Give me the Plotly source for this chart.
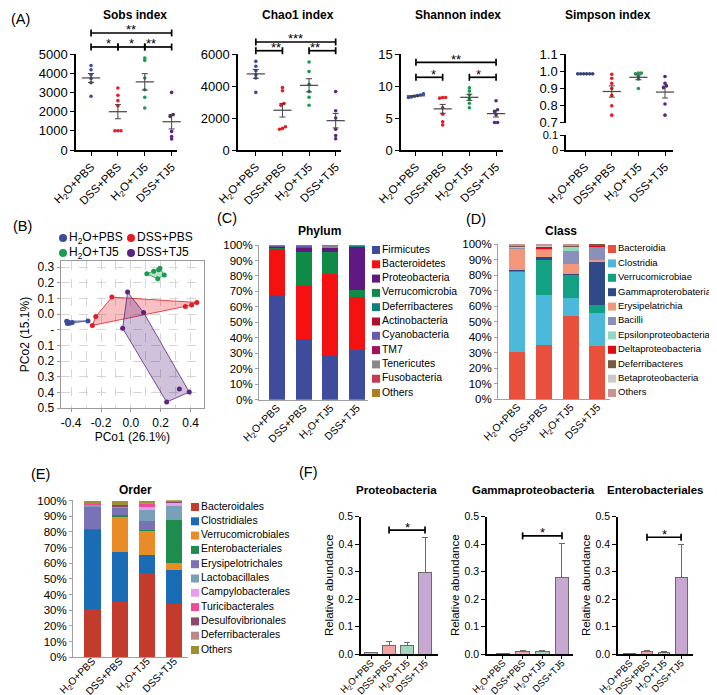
import numpy as np
import plotly.graph_objects as go

W, H = 717, 695
FONT = "Liberation Sans, Arial, sans-serif"

# ---------------- data ----------------
groups = ["H2O+PBS", "DSS+PBS", "H2O+TJ5", "DSS+TJ5"]
group_ticktext = ["H<sub>2</sub>O+PBS", "DSS+PBS", "H<sub>2</sub>O+TJ5", "DSS+TJ5"]
group_colors = ["#3c4b9b", "#e51c23", "#1a9b4f", "#5b2483"]

sobs = [[4400, 4180, 3920, 3720, 3500, 2800],
        [3230, 2850, 2570, 2310, 1000, 1000, 1000],
        [4790, 4670, 3750, 3140, 2750, 2190],
        [3000, 1840, 1750, 970, 700, 570]]
chao1 = [[5540, 5230, 4960, 4710, 4500, 3600],
         [3900, 3700, 2900, 2800, 1450, 1350, 1300],
         [5500, 4900, 4100, 3650, 3300, 2800],
         [3650, 2450, 2000, 1300, 900, 700]]
shannon = [[8.8, 8.6, 8.5, 8.4, 8.3, 8.2],
           [8.2, 8.1, 8.2, 6.6, 5.6, 4.4, 3.9],
           [9.7, 9.2, 8.6, 8.0, 7.3, 6.6],
           [7.7, 6.3, 6.0, 5.5, 4.3, 4.3]]
simpson = [[0.985, 0.985, 0.985, 0.985, 0.985, 0.985],
           [0.983, 0.96, 0.93, 0.90, 0.86, 0.80, 0.745],
           [0.99, 0.99, 0.985, 0.97, 0.955, 0.90],
           [0.97, 0.93, 0.915, 0.905, 0.81, 0.745]]

sig_sobs = [(0, 3, 6094, "**"), (0, 1, 5365, "*"), (1, 2, 5365, "*"), (2, 3, 5365, "**")]
sig_chao1 = [(0, 3, 6750, "***"), (0, 1, 6206, "**"), (2, 3, 6206, "**")]
sig_shannon = [(0, 3, 13.7, "**"), (0, 1, 11.36, "*"), (2, 3, 11.36, "*")]

# PCoA
pco_blue_x = [-0.43, -0.425, -0.42, -0.41, -0.393, -0.287]
pco_blue_y = [-0.045, -0.06, -0.05, -0.058, -0.053, -0.043]
pco_red_x = [-0.127, -0.235, -0.258, 0.365, 0.407, 0.442]
pco_red_y = [0.109, -0.015, -0.072, 0.049, 0.058, 0.075]
pco_green_x = [0.107, 0.153, 0.187, 0.195, 0.224, 0.18]
pco_green_y = [0.258, 0.274, 0.284, 0.293, 0.25, 0.226]
pco_purple_x = [-0.022, 0.085, -0.055, 0.325, 0.391, 0.24]
pco_purple_y = [0.141, 0.011, -0.09, -0.479, -0.498, -0.562]
pco_ytickvals = [0.3, 0.2, 0.1, 0.0, -0.1, -0.2, -0.3, -0.4, -0.5, -0.6]
pco_yticktext = ["0.3", "0.2", "0.1", "0.0", "-", "0.1", "0.2", "0.3", "0.4", "0.5"]

# Phylum (% per group)
phylum_names = ["Firmicutes", "Bacteroidetes", "Proteobacteria", "Verrucomicrobia", "Deferribacteres",
                "Actinobacteria", "Cyanobacteria", "TM7", "Tenericutes", "Fusobacteria", "Others"]
phylum_colors = ["#3f4c9c", "#f41111", "#5e1a82", "#108a47", "#10807f", "#b0102c",
                 "#6a5aae", "#a3105e", "#8a8a8a", "#c63a55", "#b07c22"]
phylum_stack = ["Firmicutes", "Bacteroidetes", "Verrucomicrobia", "Proteobacteria", "Deferribacteres",
                "Actinobacteria", "Cyanobacteria", "TM7", "Tenericutes", "Fusobacteria", "Others"]
phylum_vals = {
    "Firmicutes": [67.7, 39.4, 28.4, 32.3],
    "Bacteroidetes": [30.0, 34.2, 52.6, 33.8],
    "Verrucomicrobia": [0.1, 22.1, 14.7, 4.5],
    "Proteobacteria": [1.4, 3.2, 2.8, 28.8],
    "Deferribacteres": [0.1, 0.2, 0.1, 0.3],
    "Actinobacteria": [0.1, 0.4, 0.1, 0.1],
    "Cyanobacteria": [0.2, 0.1, 0.1, 0.05],
    "TM7": [0.1, 0.1, 0.1, 0.05],
    "Tenericutes": [0.1, 0.1, 0.9, 0.05],
    "Fusobacteria": [0.1, 0.1, 0.1, 0.05],
    "Others": [0.1, 0.1, 0.1, 0.1],
}

class_names = ["Bacteroidia", "Clostridia", "Verrucomicrobiae", "Gammaproterobateria", "Erysipelatrichia",
               "Bacilli", "Epsilonproteobacteria", "Deltaproteobacteria", "Deferribacteres",
               "Betaproteobacteria", "Others"]
class_colors = ["#e9503b", "#4db9da", "#12a183", "#2f4a86", "#f2967c", "#8990bb",
                "#93d8c2", "#df0a14", "#7b5a3f", "#cacaca", "#c99393"]
class_vals = {
    "Bacteroidia": [30.5, 35.0, 53.5, 34.4],
    "Clostridia": [52.0, 32.5, 11.5, 21.5],
    "Verrucomicrobiae": [0.3, 22.5, 15.5, 4.9],
    "Gammaproterobateria": [0.7, 1.5, 0.5, 27.6],
    "Erysipelatrichia": [13.5, 5.0, 6.0, 1.3],
    "Bacilli": [1.0, 0.5, 9.0, 8.8],
    "Epsilonproteobacteria": [0.3, 0.3, 2.5, 0.4],
    "Deltaproteobacteria": [0.5, 1.2, 0.2, 0.1],
    "Deferribacteres": [0.5, 0.3, 0.3, 1.0],
    "Betaproteobacteria": [0.2, 0.2, 0.5, 0.0],
    "Others": [0.5, 1.0, 0.5, 0.0],
}

order_names = ["Bacteroidales", "Clostridiales", "Verrucomicrobiales", "Enterobacteriales",
               "Erysipelotrichales", "Lactobacillales", "Campylobacterales", "Turicibacterales",
               "Desulfovibrionales", "Deferribacterales", "Others"]
order_colors = ["#c23b2c", "#1a6db4", "#e98b26", "#1f8b4d", "#7a72b6", "#79a0b9",
                "#e79cf2", "#ee4b9a", "#8b4a6b", "#b98a88", "#9a9232"]
order_vals = {
    "Bacteroidales": [31.0, 35.2, 53.5, 34.0],
    "Clostridiales": [50.3, 31.9, 12.0, 21.5],
    "Verrucomicrobiales": [0.3, 22.7, 15.0, 4.5],
    "Enterobacteriales": [0.2, 1.0, 0.6, 27.5],
    "Erysipelotrichales": [14.4, 4.7, 5.7, 0.4],
    "Lactobacillales": [1.4, 0.7, 7.0, 8.9],
    "Campylobacterales": [0.0, 0.0, 1.9, 1.7],
    "Turicibacterales": [0.1, 0.1, 2.4, 0.3],
    "Desulfovibrionales": [0.2, 0.8, 0.1, 0.2],
    "Deferribacterales": [0.2, 0.2, 0.1, 0.1],
    "Others": [1.9, 2.7, 1.7, 0.9],
}
pct_ticks = list(range(0, 101, 10))
pct_ticktext = [f"{v}%" for v in pct_ticks]

# Panel F
bar_fill = ["#b3bbdc", "#f4a3a5", "#a2d6bf", "#c7a8d2"]
proteo_mean = [0.005, 0.032, 0.032, 0.297]
proteo_err = [0.002, 0.012, 0.009, 0.126]
gamma_mean = [0.001, 0.010, 0.008, 0.278]
gamma_err = [0.001, 0.004, 0.004, 0.125]
entero_mean = [0.001, 0.008, 0.006, 0.277]
entero_err = [0.001, 0.006, 0.004, 0.123]
sig_proteo = [(1, 3, 0.451, "*")]
sig_gamma = [(1, 3, 0.43, "*")]
sig_entero = [(1, 3, 0.425, "*")]

# ---------------- helpers ----------------
fig = go.Figure()
lay = {}
shapes = []
annots = []


def fx(p):
    return p / W


def fy(p):
    return 1 - p / H


def ax_names(n):
    return ("xaxis" if n == 1 else f"xaxis{n}", "yaxis" if n == 1 else f"yaxis{n}",
            "x" if n == 1 else f"x{n}", "y" if n == 1 else f"y{n}")


AX = {}


def add_axes(n, xpx, ypx, xr, yr, xkw=None, ykw=None):
    xa, ya, xs, ys = ax_names(n)
    base = dict(showgrid=False, zeroline=False, fixedrange=True)
    xd = dict(base, domain=[fx(xpx[0]), fx(xpx[1])], range=xr, anchor=ys)
    yd = dict(base, domain=[fy(ypx[1]), fy(ypx[0])], range=yr, anchor=xs)
    xd.update(xkw or {})
    yd.update(ykw or {})
    lay[xa] = xd
    lay[ya] = yd
    AX[n] = dict(xs=xs, ys=ys, xr=xr, yr=yr, hpx=ypx[1] - ypx[0])
    fig.add_trace(go.Scatter(x=[None], y=[None], xaxis=xs, yaxis=ys, showlegend=False,
                             hoverinfo="skip"))


def hidden():
    return dict(visible=False)


def cat_x(rotfont=11.5):
    return dict(showline=True, linecolor="black", linewidth=1.5, ticks="outside", ticklen=4,
                tickwidth=1.3, tickcolor="black", tickvals=[0, 1, 2, 3], ticktext=group_ticktext,
                tickangle=-45, tickfont=dict(size=rotfont, color="black"))


def val_y(fs=13, **kw):
    d = dict(showline=True, linecolor="black", linewidth=1.5, ticks="outside", ticklen=4,
             tickwidth=1.3, tickcolor="black", tickfont=dict(size=fs, color="black"))
    d.update(kw)
    return d


def dom(v, r):
    return (v - r[0]) / (r[1] - r[0])


def bracket(n, sigs):
    a = AX[n]
    xref = a["xs"] + " domain"
    yref = a["ys"] + " domain"
    tk = 3.5 / a["hpx"]
    for c0, c1, yv, txt in sigs:
        x0, x1, yd = dom(c0, a["xr"]), dom(c1, a["xr"]), dom(yv, a["yr"])
        ln = dict(type="line", xref=xref, yref=yref, line=dict(color="black", width=1.7))
        shapes.append(dict(ln, x0=x0, x1=x1, y0=yd, y1=yd))
        shapes.append(dict(ln, x0=x0, x1=x0, y0=yd - tk, y1=yd + tk))
        shapes.append(dict(ln, x0=x1, x1=x1, y0=yd - tk, y1=yd + tk))
        annots.append(dict(xref=xref, yref=yref, x=(x0 + x1) / 2, y=yd, text=txt, showarrow=False,
                           yanchor="middle", yshift=3, font=dict(size=13, color="black")))


def swarm(vals, ypx_per_unit, cat_px, gap_px):
    vals = np.asarray(vals, float)
    order = np.argsort(vals)
    offs = np.zeros(len(vals))
    clusters = []
    cur = [order[0]]
    for i in order[1:]:
        if abs(vals[i] - vals[cur[-1]]) * ypx_per_unit < 2.0:
            cur.append(i)
        else:
            clusters.append(cur)
            cur = [i]
    clusters.append(cur)
    for cl in clusters:
        k = len(cl)
        for j, idx in enumerate(cl):
            offs[idx] = (j - (k - 1) / 2) * gap_px / cat_px
    return offs


def dot_panel(n, data, ypx_per_unit, cat_px):
    a = AX[n]
    for gi, vals in enumerate(data):
        offs = swarm(vals, ypx_per_unit, cat_px, 3.0)
        fig.add_trace(go.Scatter(x=gi + offs, y=vals, mode="markers", xaxis=a["xs"], yaxis=a["ys"],
                                 marker=dict(size=3.6, color=group_colors[gi]), showlegend=False,
                                 cliponaxis=False))
    means = [float(np.mean(v)) for v in data]
    sems = [float(np.std(v, ddof=1) / np.sqrt(len(v))) for v in data]
    fig.add_trace(go.Scatter(x=[0, 1, 2, 3], y=means, mode="markers", xaxis=a["xs"], yaxis=a["ys"],
                             marker=dict(symbol="line-ew", size=13, color="#444",
                                         line=dict(width=1.2, color="#444")),
                             error_y=dict(type="data", array=sems, width=3, thickness=1.0, color="#444"),
                             showlegend=False, cliponaxis=False))


def title(xc, yc, txt, size=12):
    annots.append(dict(xref="paper", yref="paper", x=fx(xc), y=fy(yc), text=f"<b>{txt}</b>",
                       showarrow=False, xanchor="center", yanchor="middle",
                       font=dict(size=size, color="black")))


def panel_label(xc, yc, txt):
    annots.append(dict(xref="paper", yref="paper", x=fx(xc), y=fy(yc), text=txt, showarrow=False,
                       xanchor="center", yanchor="middle", font=dict(size=14.5, color="black")))


# ---------------- Panel A ----------------
add_axes(1, (68, 169), (46, 142), [-0.56, 3.2], [0, 5000], cat_x(), val_y(dtick=1000))
add_axes(2, (230, 333), (46, 142), [-0.67, 3.2], [0, 6000], cat_x(), val_y(dtick=2000))
add_axes(3, (393, 495), (46, 142), [-0.56, 3.26], [0, 15], cat_x(), val_y(dtick=5))
add_axes(4, (558, 665), (46, 115), [-0.72, 3.3], [0.6995, 1.1005], hidden(),
         val_y(tickvals=[0.7, 0.8, 0.9, 1.0, 1.1], ticktext=["0.7", "0.8", "0.9", "1.0", "1.1"]))
add_axes(5, (558, 665), (127, 142), [-0.72, 3.3], [0, 0.1005], cat_x(),
         val_y(fs=11, tickvals=[0, 0.1], ticktext=["0", "0.1"]))

dot_panel(1, sobs, 96 / 5000, 26.7)
dot_panel(2, chao1, 96 / 6000, 26.7)
dot_panel(3, shannon, 96 / 15, 26.7)
dot_panel(4, simpson, 69 / 0.4, 26.7)
bracket(1, sig_sobs)
bracket(2, sig_chao1)
bracket(3, sig_shannon)

title(127, 7, "Sobs index")
title(290, 7, "Chao1 index")
title(450, 7, "Shannon index")
title(600, 7, "Simpson index")
panel_label(13, 11, "(A)")

# ---------------- Panel B ----------------
pco_axis = dict(showline=True, mirror=True, linecolor="#9a9a9a", linewidth=1.3, showgrid=True,
                gridcolor="#d6d6d6", griddash="dash", gridwidth=1, ticks="outside", ticklen=3,
                tickcolor="#9a9a9a", tickfont=dict(size=12, color="black"))
add_axes(6, (52.7, 196), (253, 400), [-0.47, 0.49], [-0.6, 0.34],
         dict(pco_axis, tickvals=[-0.4, -0.2, 0.0, 0.2, 0.4],
              ticktext=["-0.4", "-0.2", "0.0", "0.2", "0.4"],
              minor=dict(tickvals=[-0.3, -0.1, 0.1, 0.3], showgrid=True, gridcolor="#d6d6d6",
                         griddash="dash", ticks=""),
              title=dict(text="PCo1 (26.1%)", font=dict(size=12, color="black"), standoff=4)),
         dict(pco_axis, tickvals=pco_ytickvals, ticktext=pco_yticktext,
              title=dict(text="PCo2 (15.1%)", font=dict(size=12, color="black"), standoff=5)))


def hull(xs, ys):
    pts = sorted(set(zip(xs, ys)))

    def cross(o, a, b):
        return (a[0] - o[0]) * (b[1] - o[1]) - (a[1] - o[1]) * (b[0] - o[0])
    lower, upper = [], []
    for p in pts:
        while len(lower) >= 2 and cross(lower[-2], lower[-1], p) <= 0:
            lower.pop()
        lower.append(p)
    for p in reversed(pts):
        while len(upper) >= 2 and cross(upper[-2], upper[-1], p) <= 0:
            upper.pop()
        upper.append(p)
    h = lower[:-1] + upper[:-1]
    h.append(h[0])
    return [p[0] for p in h], [p[1] for p in h]


pco_sets = [(pco_blue_x, pco_blue_y, group_colors[0], "rgba(60,75,155,0.35)"),
            (pco_red_x, pco_red_y, group_colors[1], "rgba(229,28,35,0.28)"),
            (pco_purple_x, pco_purple_y, group_colors[3], "rgba(91,36,131,0.28)"),
            (pco_green_x, pco_green_y, group_colors[2], "rgba(26,155,79,0.3)")]
for xs, ys, col, fillc in pco_sets:
    hx, hy = hull(xs, ys)
    fig.add_trace(go.Scatter(x=hx, y=hy, mode="lines", fill="toself", fillcolor=fillc,
                             line=dict(color=col, width=0.8), xaxis="x6", yaxis="y6", showlegend=False))
for xs, ys, col, fillc in pco_sets:
    fig.add_trace(go.Scatter(x=xs, y=ys, mode="markers", marker=dict(size=5, color=col),
                             xaxis="x6", yaxis="y6", showlegend=False))

# legend for B
add_axes(7, (55, 123), (222.5, 252.5), [0, 1], [1.5, -0.5], hidden(), hidden())
fig.add_trace(go.Scatter(x=[0, 1, 0, 1], y=[0, 0, 1, 1], mode="markers+text",
                         text=group_ticktext, textposition="middle right",
                         textfont=dict(size=12, color="black"),
                         marker=dict(size=8, color=group_colors), xaxis="x7", yaxis="y7",
                         showlegend=False, cliponaxis=False))
panel_label(14, 218, "(B)")


# ---------------- Panels C, D, E ----------------
def stack_axes(n, xpx, ypx, xr, lab_fs=10.5, standoff=-3):
    xk = dict(showline=True, linecolor="#a0a0a0", linewidth=1, ticks="", tickvals=[0, 1, 2, 3],
              ticktext=group_ticktext, tickangle=-45, tickfont=dict(size=lab_fs, color="black"),
              ticklabelstandoff=standoff)
    yk = dict(showline=True, linecolor="#a0a0a0", linewidth=1, ticks="outside", ticklen=3,
              tickcolor="#a0a0a0", tickvals=pct_ticks, ticktext=pct_ticktext,
              tickfont=dict(size=11.5, color="black"))
    add_axes(n, xpx, ypx, xr, [0, 100.2], xk, yk)


def stack_bars(n, stack_order, names, colors, vals):
    a = AX[n]
    cmap = dict(zip(names, colors))
    for nm in stack_order:
        fig.add_trace(go.Bar(x=[0, 1, 2, 3], y=vals[nm], marker=dict(color=cmap[nm], line=dict(width=0)),
                             width=0.6, xaxis=a["xs"], yaxis=a["ys"], showlegend=False, name=nm))


def legend_box(n, xpx, ypx, names, colors, fs):
    k = len(names)
    add_axes(n, (xpx, W), ypx, [0, 1], [k - 0.5, -0.5], hidden(), hidden())
    a = AX[n]
    fig.add_trace(go.Scatter(x=[0] * k, y=list(range(k)), mode="markers+text", text=names,
                             textposition="middle right", textfont=dict(size=fs, color="black"),
                             marker=dict(symbol="square", size=8, color=colors),
                             xaxis=a["xs"], yaxis=a["ys"], showlegend=False, cliponaxis=False))


stack_axes(8, (251, 360), (236.7, 391.7), [-0.67, 3.41])
stack_bars(8, phylum_stack, phylum_names, phylum_colors, phylum_vals)
legend_box(9, 368, (234.85, 392.15), phylum_names, phylum_colors, 10.4)
title(311, 223, "Phylum")
panel_label(219, 210, "(C)")

stack_axes(10, (490, 602), (236, 391), [-0.73, 3.47])
stack_bars(10, class_names, class_names, class_colors, class_vals)
legend_box(11, 604, (233.8, 392.2), class_names, class_colors, 9.5)
title(553, 223, "Class")
panel_label(468, 211, "(D)")

stack_axes(12, (65, 180), (492.3, 649.3), [-0.72, 3.51], lab_fs=10.2, standoff=-7)
stack_bars(12, order_names, order_names, order_colors, order_vals)
legend_box(13, 187, (491.85, 649.15), order_names, order_colors, 10.4)
title(127, 482, "Order")
panel_label(32, 466, "(E)")


# ---------------- Panel F ----------------
def f_axes(n, xpx, xr):
    xk = cat_x(rotfont=9.5)
    xk["ticklen"] = 3
    xk["ticklabelstandoff"] = -5
    yk = val_y(fs=10.5, tickvals=[0, 0.1, 0.2, 0.3, 0.4, 0.5],
               ticktext=["0.0", "0.1", "0.2", "0.3", "0.4", "0.5"],
               title=dict(text="Relative abundance", font=dict(size=11.5, color="black"), standoff=3))
    add_axes(n, xpx, (508.5, 646), xr, [0, 0.5005], xk, yk)


def f_bars(n, means, errs):
    a = AX[n]
    fig.add_trace(go.Bar(x=[0, 1, 2, 3], y=means, width=0.7,
                         marker=dict(color=bar_fill, line=dict(color="#6a6a6a", width=1)),
                         error_y=dict(type="data", symmetric=False, array=errs, arrayminus=[0] * 4,
                                      width=3, thickness=1, color="#6a6a6a"),
                         xaxis=a["xs"], yaxis=a["ys"], showlegend=False))


f_axes(14, (353, 430), [-0.56, 3.72])
f_bars(14, proteo_mean, proteo_err)
bracket(14, sig_proteo)
title(388, 482, "Proteobacteria", 11.5)

f_axes(15, (479, 565), [-0.81, 3.56])
f_bars(15, gamma_mean, gamma_err)
bracket(15, sig_gamma)
title(525, 482, "Gammaproteobacteria", 11.5)

f_axes(16, (610, 685), [-0.7, 3.7])
f_bars(16, entero_mean, entero_err)
bracket(16, sig_entero)
title(647, 482, "Enterobacteriales", 11.5)
panel_label(300, 464, "(F)")

fig.update_layout(width=W, height=H, autosize=False, margin=dict(l=0, r=0, t=0, b=0),
                  template="none", plot_bgcolor="white", paper_bgcolor="white",
                  font=dict(family=FONT, color="black"), barmode="stack", showlegend=False,
                  shapes=shapes, annotations=annots, **lay)
fig.write_html("out.html")
